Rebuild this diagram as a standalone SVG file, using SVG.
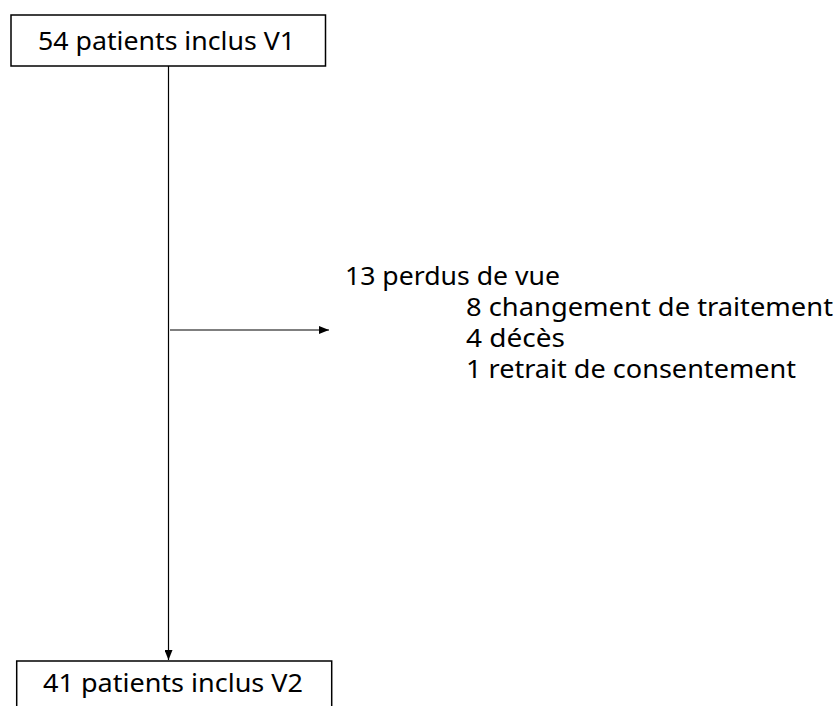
<svg xmlns="http://www.w3.org/2000/svg" width="836" height="706" viewBox="0 0 836 706">
<style>
.box{fill:#fff;stroke:#000;stroke-width:1.5}
.t{font-family:"Noto Sans","Liberation Sans",sans-serif;font-size:26px;fill:#000}
.c{stroke:#000;stroke-width:1.2;fill:none}
</style>
<defs>
<marker id="ah" markerWidth="10" markerHeight="8" refX="10" refY="4" orient="auto" markerUnits="userSpaceOnUse">
<path d="M0,0 L10,4 L0,8 Z" fill="#000"/>
</marker>
</defs>
<rect width="836" height="706" fill="#fff"/>
<g id="connectors">
<line class="c" x1="168.5" y1="66" x2="168.5" y2="660" marker-end="url(#ah)"/>
<line class="c" x1="170" y1="330" x2="329" y2="330" marker-end="url(#ah)"/>
</g>
<g id="v1">
<rect class="box" x="11" y="15" width="314.5" height="51"/>
<text class="t" x="38" y="50" textLength="257" lengthAdjust="spacingAndGlyphs">54 patients inclus V1</text>
</g>
<g id="losses">
<text class="t" x="345" y="285" textLength="215" lengthAdjust="spacingAndGlyphs">13 perdus de vue</text>
<text class="t" x="466" y="316" textLength="367" lengthAdjust="spacingAndGlyphs">8 changement de traitement</text>
<text class="t" x="466" y="347" textLength="99" lengthAdjust="spacingAndGlyphs">4 décès</text>
<text class="t" x="466" y="378" textLength="330" lengthAdjust="spacingAndGlyphs">1 retrait de consentement</text>
</g>
<g id="v2">
<rect class="box" x="16.7" y="661" width="315" height="60"/>
<text class="t" x="43" y="692" textLength="260" lengthAdjust="spacingAndGlyphs">41 patients inclus V2</text>
</g>
</svg>
